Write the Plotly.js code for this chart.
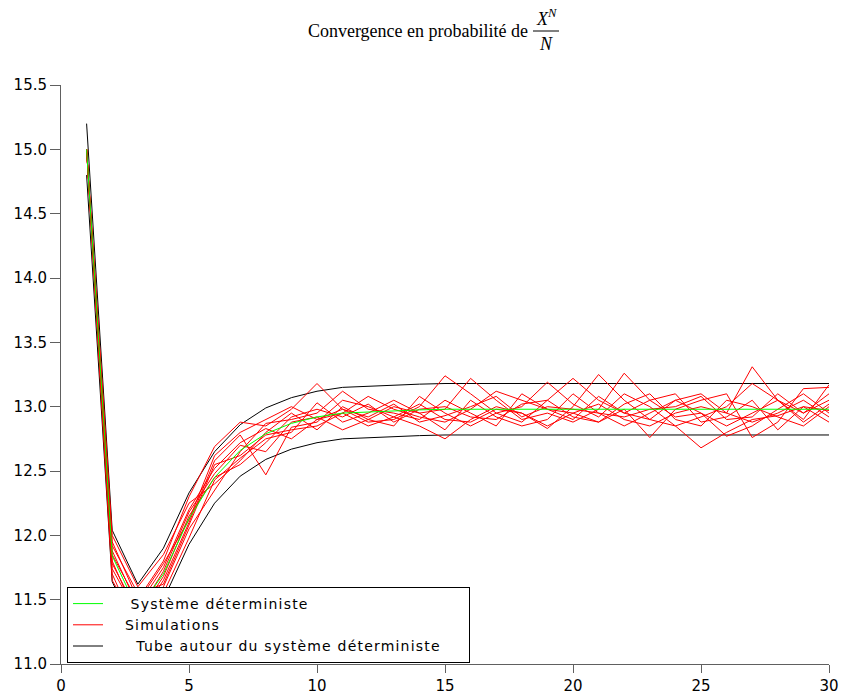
<!DOCTYPE html>
<html>
<head>
<meta charset="utf-8">
<script src="https://cdn.plot.ly/plotly-3.0.1.min.js"></script>
<style>html,body{margin:0;padding:0;background:#fff;}#chart{width:842px;height:700px;}
.legendtext{letter-spacing:1.2px;}</style>
</head>
<body>
<div id="chart"></div>
<script>
var steps = [1,2,3,4,5,6,7,8,9,10,11,12,13,14,15,16,17,18,19,20,21,22,23,24,25,26,27,28,29,30];

var deterministe = [15.0,11.84,11.42,11.70,12.13,12.45,12.66,12.79,12.87,12.92,12.95,12.96,12.97,12.975,12.98,12.98,12.98,12.98,12.98,12.98,12.98,12.98,12.98,12.98,12.98,12.98,12.98,12.98,12.98,12.98];
var tubeHaut = [15.2,12.04,11.62,11.90,12.33,12.65,12.86,12.99,13.07,13.12,13.15,13.16,13.17,13.175,13.18,13.18,13.18,13.18,13.18,13.18,13.18,13.18,13.18,13.18,13.18,13.18,13.18,13.18,13.18,13.18];
var tubeBas = [14.8,11.64,11.22,11.50,11.93,12.25,12.46,12.59,12.67,12.72,12.75,12.76,12.77,12.775,12.78,12.78,12.78,12.78,12.78,12.78,12.78,12.78,12.78,12.78,12.78,12.78,12.78,12.78,12.78,12.78];

var sim1 = [15.0,11.95,11.50,11.80,12.30,12.69,12.88,12.85,12.98,13.18,12.98,12.88,12.90,13.00,13.24,13.10,12.95,12.88,13.05,13.22,13.05,12.95,12.90,13.05,13.10,12.95,13.31,13.05,12.95,13.05];
var sim2 = [15.0,11.80,11.35,11.65,12.10,12.58,12.78,12.47,12.84,12.88,13.05,13.00,12.92,12.85,12.75,12.90,13.00,12.95,12.83,13.00,13.25,13.05,12.90,12.85,12.68,12.80,12.90,12.93,13.00,12.97];
var sim3 = [15.0,11.70,11.25,11.55,11.98,12.43,12.60,12.75,12.80,13.03,12.88,12.95,13.05,12.95,12.98,13.22,13.05,12.90,12.95,12.88,12.98,13.26,13.05,12.92,12.95,12.77,12.85,12.98,13.10,12.95];
var sim4 = [15.0,11.88,11.45,11.75,12.20,12.52,12.72,12.83,12.75,12.90,12.95,13.08,12.98,12.92,12.88,12.98,13.12,13.05,12.98,12.95,12.88,12.98,12.76,12.98,13.05,13.10,12.76,12.88,13.14,13.15];
var sim5 = [15.0,12.00,11.60,11.85,12.25,12.40,12.58,12.80,12.95,12.82,13.00,12.90,12.85,13.08,12.95,12.85,12.95,13.00,13.19,13.02,12.92,13.10,13.00,12.85,12.92,13.00,13.18,13.05,12.90,13.17];
var sim6 = [15.0,11.65,11.30,11.60,12.05,12.35,12.65,12.87,12.90,12.95,13.12,12.98,12.95,12.90,13.05,12.95,12.85,13.10,12.98,12.90,13.08,12.95,13.05,13.10,12.88,12.92,13.05,12.82,13.00,12.88];
var sim7 = [15.0,11.78,11.40,11.72,12.18,12.48,12.70,12.65,12.88,12.92,12.82,12.90,13.00,12.95,12.82,13.05,12.92,12.85,12.90,13.10,12.95,12.85,12.95,13.05,12.95,12.85,12.95,13.05,12.88,13.02];
var sim8 = [15.0,11.92,11.55,11.62,12.08,12.55,12.62,12.78,12.82,12.85,12.95,12.85,12.92,13.02,12.90,12.88,12.98,12.95,12.85,12.95,13.02,12.90,12.85,12.95,13.00,12.95,12.88,12.95,13.05,12.92];
var sim9 = [15.0,11.74,11.38,11.68,12.15,12.45,12.55,12.72,12.92,12.98,12.92,13.02,12.88,12.98,13.00,12.92,12.90,13.02,13.05,12.92,12.88,13.02,13.10,12.90,12.85,13.05,13.00,12.92,12.85,13.00];
var sim10 = [15.0,11.85,11.48,11.78,12.12,12.62,12.80,12.90,13.00,12.90,12.98,12.92,13.02,12.88,12.93,13.00,13.08,12.92,13.00,12.98,12.95,12.92,12.98,13.00,13.08,12.90,12.92,13.10,12.95,13.10];

var simulations = [sim1,sim2,sim3,sim4,sim5,sim6,sim7,sim8,sim9,sim10];

var legendNames = ["Système déterministe", "Simulations", "Tube autour du système déterministe"];
var legendIndent = ["\u00a0\u00a0\u00a0\u00a0", "\u00a0\u00a0\u00a0", "\u00a0\u00a0\u00a0\u00a0\u00a0"];
var legendPad = "\u00a0\u00a0\u00a0\u00a0";

var traces = [];
traces.push({x: steps, y: tubeHaut, type: 'scatter', mode: 'lines', name: legendIndent[2] + legendNames[2] + legendPad,
  line: {color: '#000000', width: 1}, legendrank: 3, showlegend: true});
traces.push({x: steps, y: tubeBas, type: 'scatter', mode: 'lines', name: legendNames[2],
  line: {color: '#000000', width: 1}, legendrank: 3, showlegend: false});
simulations.forEach(function(s, i) {
  traces.push({x: steps, y: s, type: 'scatter', mode: 'lines', name: legendIndent[1] + legendNames[1],
    line: {color: '#ff0000', width: 1}, legendrank: 2, showlegend: i === 0});
});
traces.push({x: steps, y: deterministe, type: 'scatter', mode: 'lines', name: legendIndent[0] + legendNames[0],
  line: {color: '#00ff00', width: 1}, legendrank: 1, showlegend: true});

var W = 842, H = 700, L = 61, R = 13, T = 85, B = 36;
var pw = W - L - R, ph = H - T - B;
function px2x(p) { return (p - L) / pw; }
function py2y(p) { return (H - B - p) / ph; }

var serif = 'Liberation Serif, DejaVu Serif, serif';

var layout = {
  width: W, height: H,
  margin: {l: L, r: R, t: T, b: B},
  paper_bgcolor: '#ffffff', plot_bgcolor: '#ffffff',
  font: {family: 'DejaVu Sans, Liberation Sans, sans-serif', color: '#000000', size: 15},
  title: {text: 'Convergence en probabilité de', xref: 'container', yref: 'container',
    x: 528 / W, xanchor: 'right', y: 1 - 31 / H, yanchor: 'middle',
    font: {family: serif, size: 18, color: '#000000'}},
  xaxis: {range: [0, 30], dtick: 5, tick0: 0, showgrid: false, zeroline: false,
    showline: true, linecolor: '#606060', linewidth: 1, ticks: 'outside', ticklen: 8,
    tickcolor: '#606060', tickfont: {size: 15, color: '#000000'}, fixedrange: true},
  yaxis: {range: [11, 15.5], dtick: 0.5, tick0: 11, tickformat: '.1f', showgrid: false, zeroline: false,
    showline: true, linecolor: '#606060', linewidth: 1, ticks: 'outside', ticklen: 10,
    tickcolor: '#606060', tickfont: {size: 15, color: '#000000'}, fixedrange: true},
  showlegend: true,
  legend: {x: px2x(67), y: py2y(587), xanchor: 'left', yanchor: 'top',
    bgcolor: '#ffffff', bordercolor: '#000000', borderwidth: 1,
    font: {size: 14, color: '#000000', family: 'DejaVu Sans, sans-serif'}, tracegroupgap: 0, traceorder: 'normal'},
  annotations: [
    {xref: 'paper', yref: 'paper', x: px2x(546), y: py2y(18), text: '<i>X</i><sup><i>N</i></sup>',
      showarrow: false, xanchor: 'center', yanchor: 'middle',
      font: {family: serif, size: 18, color: '#000000'}},
    {xref: 'paper', yref: 'paper', x: px2x(546), y: py2y(44), text: '<i>N</i>',
      showarrow: false, xanchor: 'center', yanchor: 'middle',
      font: {family: serif, size: 18, color: '#000000'}}
  ],
  shapes: [
    {type: 'line', xref: 'paper', yref: 'paper', x0: px2x(533), x1: px2x(559), y0: py2y(31), y1: py2y(31),
      line: {color: '#000000', width: 1}}
  ]
};

Plotly.newPlot('chart', traces, layout, {displayModeBar: false, staticPlot: true});
</script>
</body>
</html>
